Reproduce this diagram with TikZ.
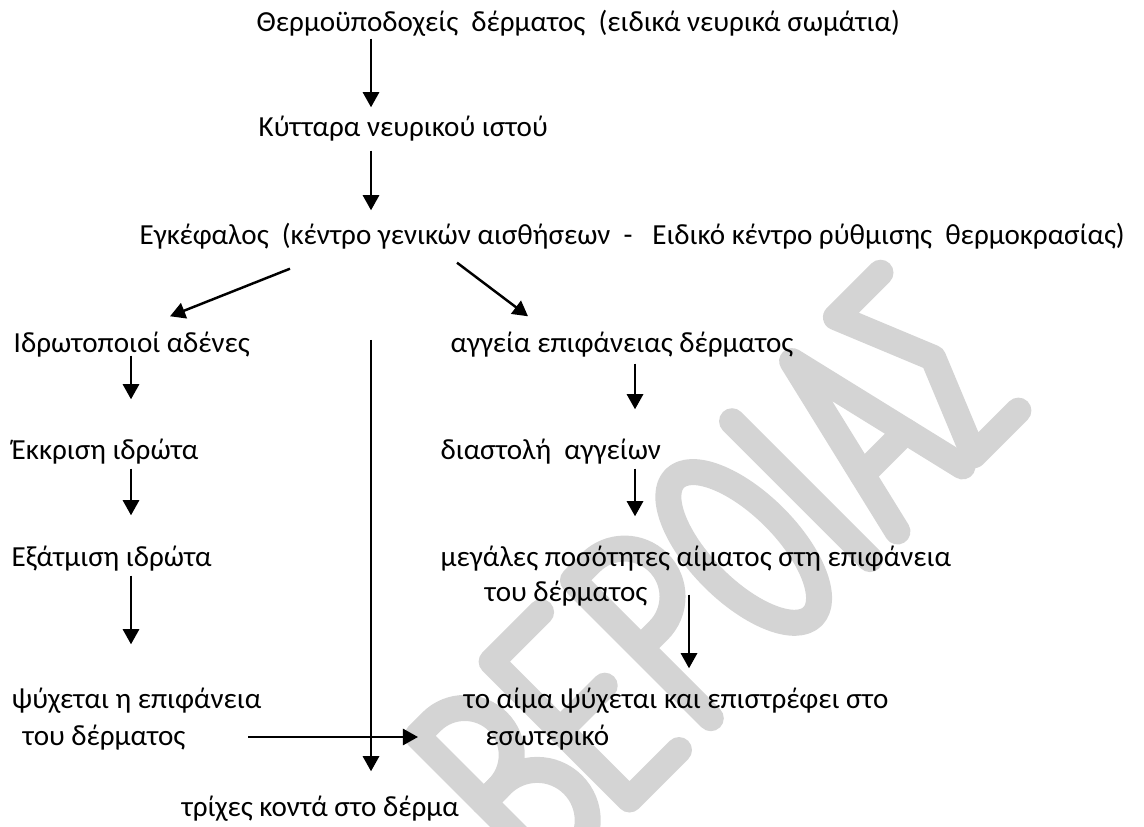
\documentclass[tikz,border=0pt]{standalone}
\usepackage{fontspec}
\setmainfont{Carlito}
\usetikzlibrary{arrows.meta,calc}
\tikzset{
	txt/.style={anchor=base west, inner sep=0pt, text height=0.22cm, text depth=0.06cm, font=\fontsize{8.28}{10}\selectfont},
	arr/.style={-{Triangle[length=4.3pt,width=4.6pt]}, line width=0.7pt},
	wmark/.style={color=black!17, line width=7.4pt, line cap=round, line join=round}
}

\begin{document}
\begin{tikzpicture}
		%%%%% START %%%%%
		
		\useasboundingbox (0,0) rectangle (11.44,8.26);
		
		% watermark letters
		\begin{scope}
			\clip (0,0) rectangle (11.44,8.26);
			\begin{scope}[shift={(9.30,3.27)}, rotate=45, wmark]
				\draw (-5.30,0) -- (-5.30,1.95) -- (-5.10,1.95) arc[start angle=90, end angle=-90, radius=0.47] -- (-5.30,1.01);
				\draw (-5.30,1.01) -- (-5.05,1.01) arc[start angle=90, end angle=-90, radius=0.505] -- (-5.30,0);
				\draw (-3.55,1.95) -- (-4.25,1.95) -- (-4.25,0) -- (-3.55,0);
				\draw (-4.25,0.98) -- (-3.62,0.98);
				\draw (-3.10,0) -- (-3.10,1.95) -- (-2.85,1.95) arc[start angle=90, end angle=-90, radius=0.48] -- (-3.10,0.99);
				\draw (-1.66,0.975) ellipse (0.43 and 0.975);
				\draw (-0.85,0) -- (-0.85,1.95);
				\draw (-0.46,0) -- (0,1.95) -- (0.46,0);
				\draw (-0.307,0.65) -- (0.307,0.65);
				\draw (1.25,1.95) -- (0.62,1.95) -- (1.02,0.975) -- (0.62,0) -- (1.25,0);
			\end{scope}
		\end{scope}
		
		% texts
		\node[txt] (thermo) at (2.56,7.94) {Θερμοϋποδοχείς\ \ δέρματος\ \ (ειδικά νευρικά σωμάτια)};
		\node[txt] (kyttara) at (2.58,6.89) {Κύτταρα νευρικού ιστού};
		\node[txt] (egk) at (1.39,5.81) {Εγκέφαλος\ \ (κέντρο γενικών αισθήσεων\ \ -\ \ \ Ειδικό κέντρο ρύθμισης\ \ θερμοκρασίας)};
		
		\node[txt] (idrot) at (0.13,4.73) {Ιδρωτοποιοί αδένες};
		\node[txt] (ekkrisi) at (0.11,3.66) {Έκκριση ιδρώτα};
		\node[txt] (exatm) at (0.11,2.59) {Εξάτμιση ιδρώτα};
		\node[txt] (psyx) at (0.11,1.17) {ψύχεται η επιφάνεια};
		\node[txt] (psyxb) at (0.22,0.81) {του δέρματος};
		
		\node[txt] (aggeia) at (4.50,4.73) {αγγεία επιφάνειας δέρματος};
		\node[txt] (diast) at (4.40,3.66) {διαστολή\ \ αγγείων};
		\node[txt] (megales) at (4.40,2.59) {μεγάλες ποσότητες αίματος στη επιφάνεια};
		\node[txt] (megb) at (4.84,2.24) {του δέρματος};
		\node[txt] (aima) at (4.63,1.17) {το αίμα ψύχεται και επιστρέφει στο};
		\node[txt] (aimab) at (4.85,0.81) {εσωτερικό};
		
		\node[txt] (trixes) at (1.81,0.10) {τρίχες κοντά στο δέρμα};
		
		% columns of the arrows
		\coordinate (lcol) at (1.31,0);
		\coordinate (mcol) at (3.71,0);
		\coordinate (rcol) at (6.35,0);
		\coordinate (scol) at (6.89,0);
		\coordinate (hairtop) at (3.71,4.86);
		
		% arrows
		\draw[arr, shorten >=0.07cm] (thermo.south -| mcol) -- (kyttara.north -| mcol);
		\draw[arr, shorten <=0.07cm, shorten >=0.12cm] (kyttara.south -| mcol) -- (egk.north -| mcol);
		
		\draw[arr] ([shift={(1.51,-0.17)}]egk.south west) -- ([shift={(1.57,0.14)}]idrot.north west);
		\draw[arr] ([shift={(3.18,-0.11)}]egk.south west) -- ([shift={(0.78,0.14)}]aggeia.north west);
		
		\draw[arr, shorten <=-0.04cm, shorten >=0.38cm] (idrot.south -| lcol) -- (ekkrisi.north -| lcol);
		\draw[arr, shorten <=0.02cm, shorten >=0.29cm] (ekkrisi.south -| lcol) -- (exatm.north -| lcol);
		\draw[arr, shorten <=0.02cm, shorten >=0.42cm] (exatm.south -| lcol) -- (psyx.north -| lcol);
		
		\draw[arr, shorten <=0.04cm, shorten >=0.28cm] (aggeia.south -| rcol) -- (diast.north -| rcol);
		\draw[arr, shorten <=0.02cm, shorten >=0.28cm] (diast.south -| rcol) -- (megales.north -| rcol);
		\draw[arr, shorten <=-0.14cm, shorten >=0.18cm] (megb.south -| scol) -- (aima.north -| scol);
		
		\draw[arr, shorten >=0.22cm] (hairtop) -- (trixes.north -| hairtop);
		\draw[arr, shorten <=0.62cm, shorten >=0.67cm] (psyxb.east) -- (aimab.west);
		
		%%%%% END %%%%%
\end{tikzpicture}
\end{document}
